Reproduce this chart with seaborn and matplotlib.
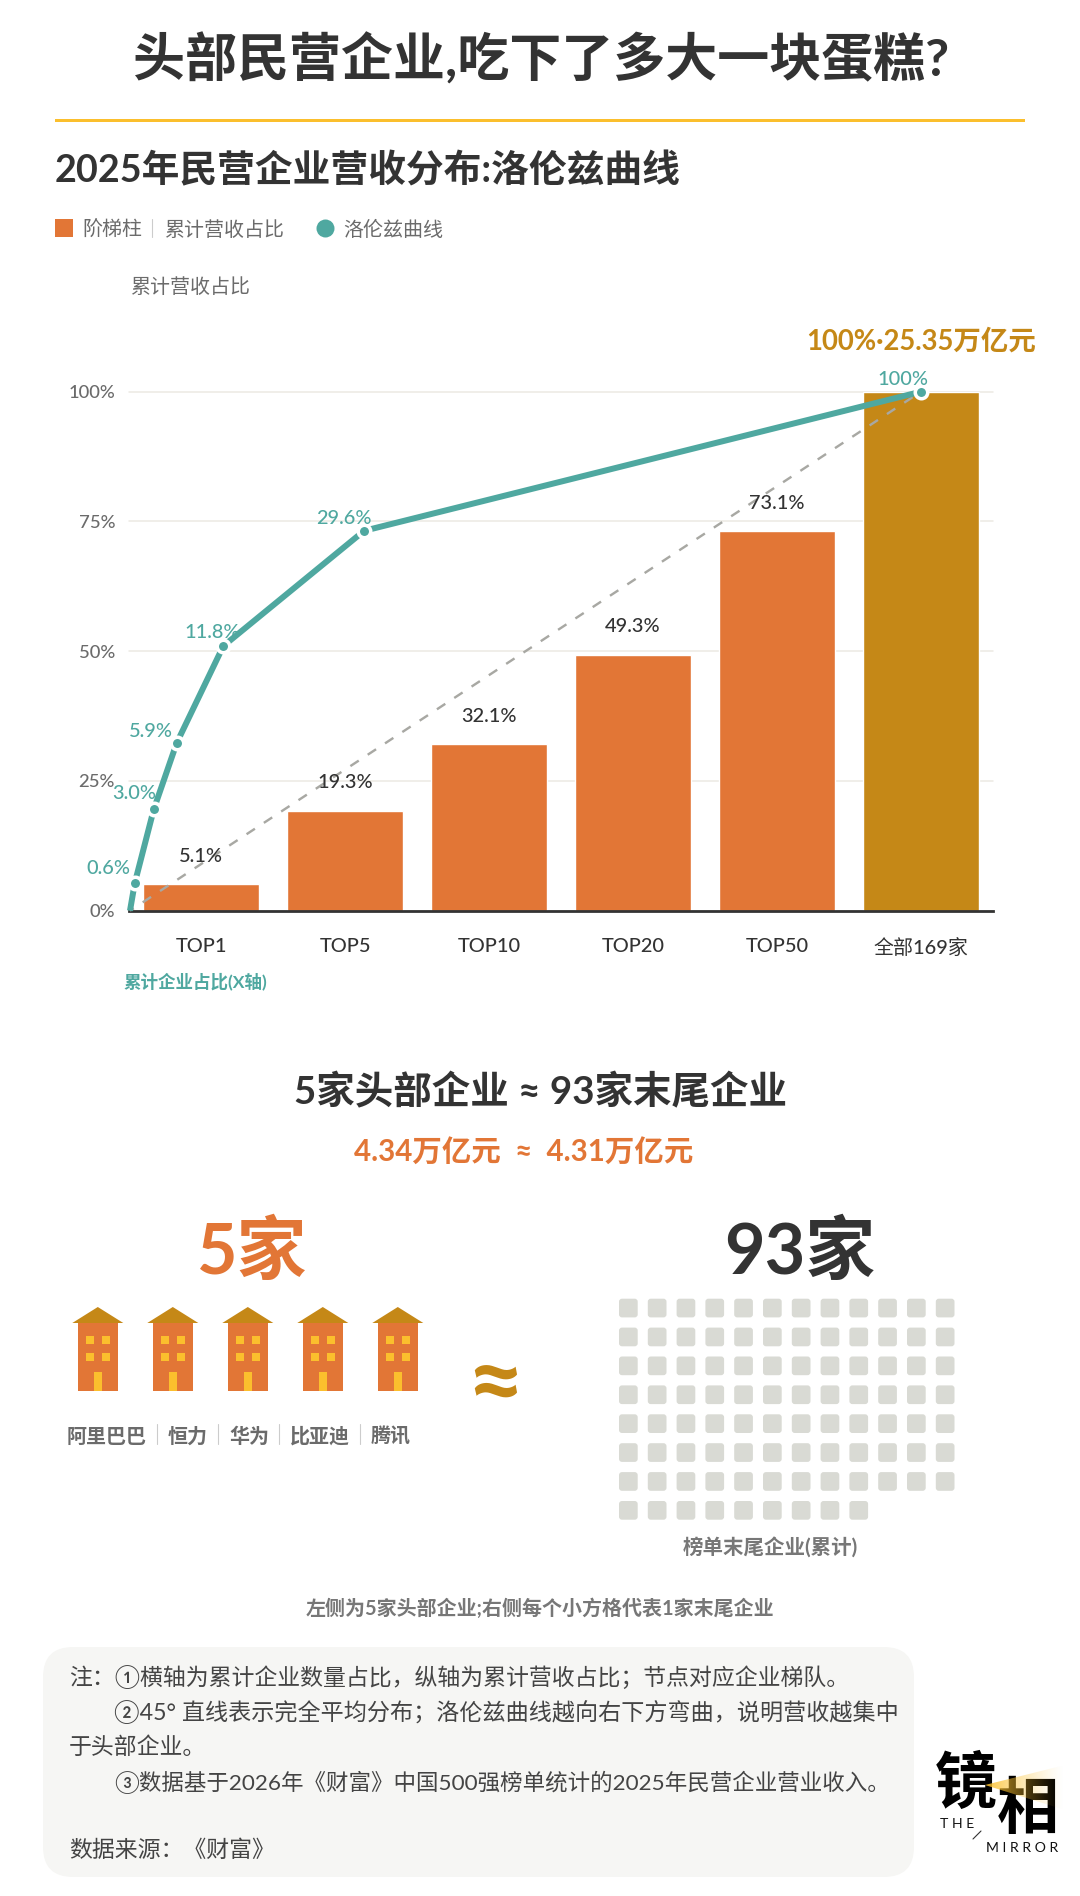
import numpy as np
import pandas as pd
import matplotlib.pyplot as plt
import seaborn as sns
from matplotlib.patches import FancyBboxPatch, Polygon, Rectangle

# 数据
tiers = ['TOP1', 'TOP5', 'TOP10', 'TOP20', 'TOP50', '全部169家']
revenue_share = [5.1, 19.3, 32.1, 49.3, 73.1, 100]
company_share = [0, 0.6, 3.0, 5.9, 11.8, 29.6, 100]
lorenz_share = [0, 5.3, 19.5, 32.3, 51.0, 73.2, 100]
company_labels = ['0.6%', '3.0%', '5.9%', '11.8%', '29.6%', '100%']
y_ticks = [0, 25, 50, 75, 100]
y_tick_labels = ['0%', '25%', '50%', '75%', '100%']
top_companies = ['阿里巴巴', '恒力', '华为', '比亚迪', '腾讯']
tail_count = 93
notes = [
    '注：①横轴为累计企业数量占比，纵轴为累计营收占比；节点对应企业梯队。',
    '②45° 直线表示完全平均分布；洛伦兹曲线越向右下方弯曲，说明营收越集中',
    '于头部企业。',
    '③数据基于2026年《财富》中国500强榜单统计的2025年民营企业营业收入。',
    '数据来源：《财富》',
]

ORANGE = '#E27636'
GOLD = '#C58817'
TEAL = '#4FA8A0'
YELLOW = '#FBBF2D'
DARK = '#333333'
GREY = '#6B6B6B'

sns.set_theme(style='white')
plt.rcParams['font.family'] = ['Lato', 'Noto Sans CJK SC', 'DejaVu Sans']
plt.rcParams['lines.scale_dashes'] = False

W, H = 1080, 1896
fig = plt.figure(figsize=(W / 100, H / 100), dpi=100, facecolor='white')


def pt(px):
    return px * 0.72


# 画布层，坐标就是像素
canvas = fig.add_axes([0, 0, 1, 1])
canvas.set_xlim(0, W)
canvas.set_ylim(H, 0)
canvas.axis('off')


def label(x, y, s, size, color=DARK, ha='left', weight='normal', **kw):
    kw.setdefault('va', 'center')
    return canvas.text(x, y, s, fontsize=pt(size), color=color, ha=ha,
                       fontweight=weight, **kw)


# 标题
label(541, 59, '头部民营企业,吃下了多大一块蛋糕?', 52, ha='center', weight='bold')
canvas.add_patch(Rectangle((55, 119), 970, 3.2, color=YELLOW, lw=0))
label(55, 170, '2025年民营企业营收分布:洛伦兹曲线', 37.8, weight='bold')

# 图例
canvas.add_patch(Rectangle((55, 219), 18, 18, color=ORANGE, lw=0))
label(82, 229.5, '阶梯柱', 20, GREY)
canvas.plot([152, 152], [219, 237], color='#CCCCCC', lw=0.8)
label(164, 229.5, '累计营收占比', 20, GREY)
canvas.scatter([324.5], [228], s=pt(18) ** 2, color=TEAL, lw=0)
label(343, 229.5, '洛伦兹曲线', 20, GREY)
label(130, 287, '累计营收占比', 20, GREY)

# 主图
left, right, top, bottom = 129, 993, 391.7, 910.7
ax = fig.add_axes([left / W, 1 - bottom / H, (right - left) / W, (bottom - top) / H])
ax.patch.set_visible(False)
bars = pd.DataFrame({'tier': tiers, 'share': revenue_share})
sns.barplot(data=bars, x='tier', y='share', hue='tier', ax=ax, width=0.8, legend=False,
            palette=[ORANGE] * 5 + [GOLD], saturation=1, zorder=2)
ax.set_xlim(-0.5, 5.5)
ax.set_ylim(0, 100)
ax.set(xlabel=None, ylabel=None)
ax.set_yticks(y_ticks, y_tick_labels)
ax.tick_params(axis='y', length=0, pad=pt(14), labelsize=pt(18.5), labelcolor=GREY)
ax.tick_params(axis='x', length=0, pad=pt(27), labelsize=pt(20), labelcolor=DARK)
plt.setp(ax.get_xticklabels() + ax.get_yticklabels(), fontweight='medium')
ax.grid(axis='y', color='#ECEAE3', lw=1.1)
ax.set_axisbelow(True)
for gl in ax.get_ygridlines():
    gl.set_clip_on(False)
sns.despine(ax=ax, left=True)
ax.spines['bottom'].set_color(DARK)
ax.spines['bottom'].set_linewidth(2)

for i, val in enumerate(revenue_share[:-1]):
    ax.annotate(f'{val}%', (i, val), xytext=(0, pt(28)), textcoords='offset points',
                ha='center', va='center', fontsize=pt(20), color=DARK, zorder=6,
                fontweight='medium')

# 洛伦兹曲线：横轴是企业数量占比，单独一根 x 轴
lorenz_xlim = ((left - 130) / 7.91, (right - 130) / 7.91)
ax2 = ax.twiny()
ax2.set_xlim(*lorenz_xlim)
ax2.set_ylim(0, 100)
ax.plot([0, 100], [0, 100], transform=ax2.transData, color='#A8A8A3', lw=pt(2.4),
        ls=(pt(5.5), (pt(10), pt(10.7))), zorder=5, clip_on=False)
sns.lineplot(x=company_share, y=lorenz_share, ax=ax2, color=TEAL, lw=pt(6), marker='o',
             markersize=pt(12.5), markeredgecolor='white', markeredgewidth=pt(3.5),
             markevery=list(range(1, len(company_share))), clip_on=False,
             solid_capstyle='butt', sort=False, errorbar=None)
ax2.set_xlim(*lorenz_xlim)
ax2.set_ylim(0, 100)
ax2.axis('off')

label_offsets = [(-26, 15), (-19, 16), (-26, 12), (-11, 14), (-20, 12), (-18, 12)]
for x, y, s, (dx, dy) in zip(company_share[1:], lorenz_share[1:], company_labels, label_offsets):
    ax2.annotate(s, (x, y), xytext=(pt(dx), pt(dy)), textcoords='offset points',
                 ha='center', va='center', fontsize=pt(20), color=TEAL, annotation_clip=False,
                 fontweight='medium')

label(921, 342, '100%·25.35万亿元', 27.5, GOLD, ha='center', weight='bold')
label(123, 981, '累计企业占比(X轴)', 17.5, TEAL, weight='bold')

# 对比区
label(541, 1092, '5家头部企业 ≈ 93家末尾企业', 38.5, ha='center', weight='bold')
label(524, 1152, '4.34万亿元  ≈  4.31万亿元', 29.5, ORANGE, ha='center', weight='bold')
label(252, 1253, '5家', 70, ORANGE, ha='center', weight='bold')
label(800, 1253, '93家', 70, ha='center', weight='bold')
label(495, 1387, '≈', 100, GOLD, ha='center', weight='bold')

# 5 栋楼
for i in range(len(top_companies)):
    cx = 97.8 + 75 * i
    canvas.add_patch(Polygon([(cx - 25.5, 1323), (cx, 1307), (cx + 25.5, 1323)], color=GOLD, lw=0))
    canvas.add_patch(Rectangle((cx - 20.2, 1323), 40.4, 67.7, color=ORANGE, lw=0))
    for wy in (1336, 1353):
        for wx in (-12, 4):
            canvas.add_patch(Rectangle((cx + wx, wy), 8, 8.3, color=YELLOW, lw=0))
    canvas.add_patch(Rectangle((cx - 4.2, 1372), 8.4, 18.7, color=YELLOW, lw=0))

# 公司名
cur = 67
for i, name in enumerate(top_companies):
    label(cur, 1435, name, 20, GREY, weight='bold', va='center_baseline')
    cur += len(name) * 20
    if i < len(top_companies) - 1:
        canvas.plot([cur + 10.4, cur + 10.4], [1424, 1444], color='#CCCCCC', lw=0.8)
        cur += 21

# 93 个小方格
rows, cols = np.divmod(np.arange(tail_count), 12)
for r, c in zip(rows, cols):
    canvas.add_patch(FancyBboxPatch((619 + c * 28.8 + 3, 1298.7 + r * 28.9 + 3), 12.7, 12.7,
                                    boxstyle='round,pad=3,rounding_size=3',
                                    fc='#D9DAD4', ec='none'))

label(770, 1547, '榜单末尾企业(累计)', 20.5, '#777777', ha='center', weight='bold')
label(540, 1609, '左侧为5家头部企业;右侧每个小方格代表1家末尾企业', 20, '#777777', ha='center', weight='bold')

# 注释框
canvas.add_patch(FancyBboxPatch((43 + 30, 1647 + 30), 871 - 60, 230 - 60,
                                boxstyle='round,pad=30,rounding_size=30',
                                fc='#F6F6F4', ec='none'))
note_pos = [(69, 1677), (114, 1712), (69, 1747), (114, 1782), (69, 1850)]
note_sizes = [22.9, 23.1, 22.9, 22.5, 22.9]
for (nx, ny), size, line in zip(note_pos, note_sizes, notes):
    label(nx, ny, line, size, '#444444')

# logo
label(966, 1783, '镜', 62, '#000000', ha='center', weight='black')
label(1028, 1809, '相', 62, '#000000', ha='center', weight='black')
label(957, 1824, 'T H E', 14, '#111111', ha='center')
canvas.plot([973, 981], [1839, 1831], color='#333333', lw=0.8)
label(1022, 1848, 'M I R R O R', 14, '#111111', ha='center')
beam = np.zeros((2, 256, 4))
beam[..., :3] = (251 / 255, 192 / 255, 45 / 255)
beam[..., 3] = 0.9 * np.linspace(1, 0, 256) ** 1.4
im = canvas.imshow(beam, extent=(985, 1065, 1810, 1765), aspect='auto', zorder=5)
im.set_clip_path(Polygon([(985, 1785), (1065, 1765), (1065, 1810)], transform=canvas.transData))
canvas.set_xlim(0, W)
canvas.set_ylim(H, 0)

fig.savefig('out.png', dpi=100, facecolor='white')
